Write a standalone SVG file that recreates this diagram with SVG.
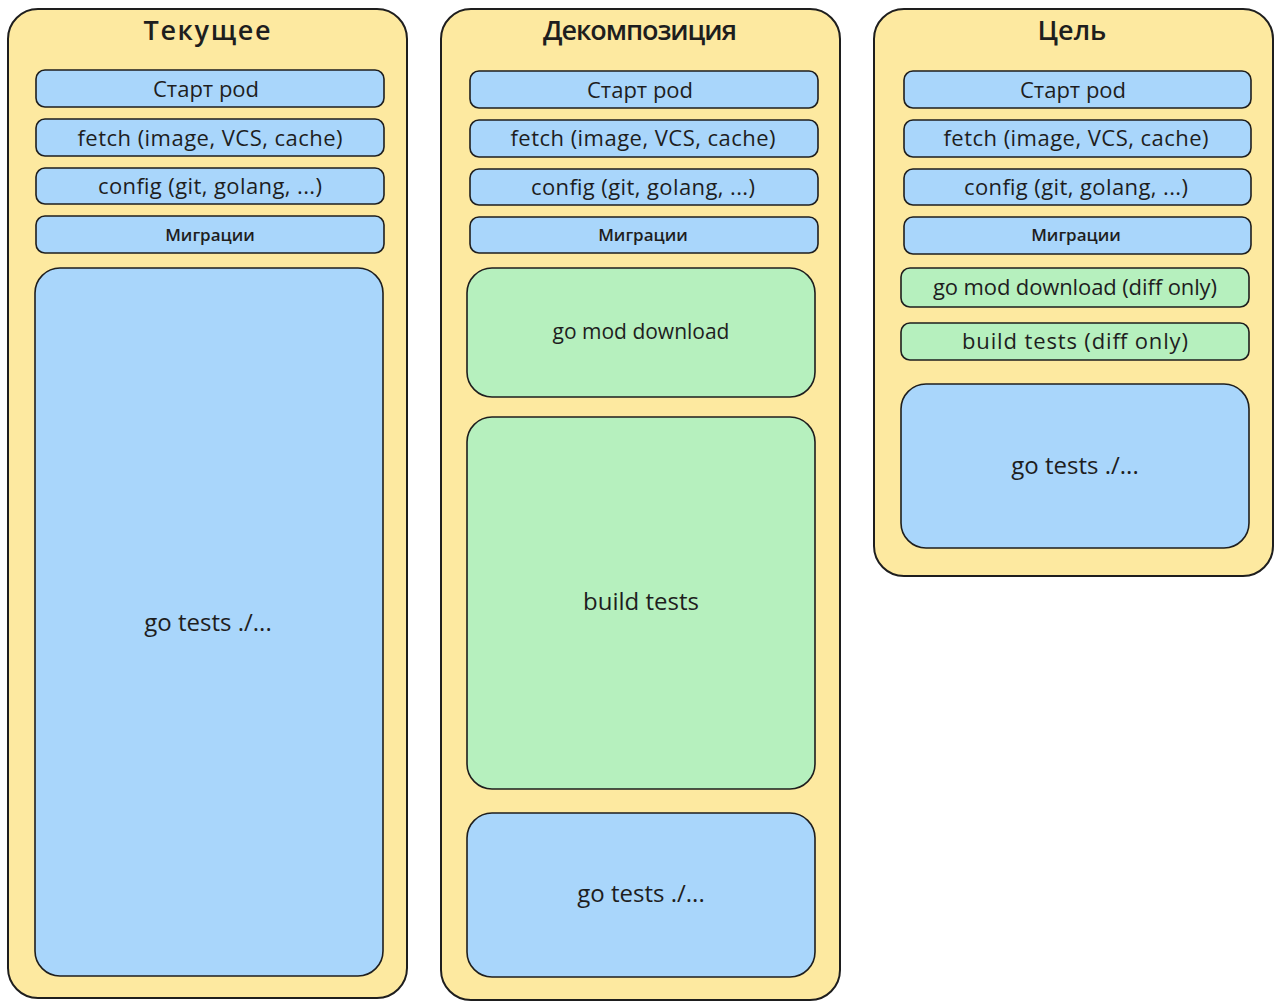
<svg xmlns="http://www.w3.org/2000/svg" width="1280" height="1002" viewBox="0 0 1280 1002">
<style>
.col{fill:#fde9a0;stroke:#1e1e1e;stroke-width:2}
.b{fill:#a9d6fb;stroke:#1e1e1e;stroke-width:1.6}
.g{fill:#b6f0be;stroke:#1e1e1e;stroke-width:1.6}
text{font-family:"Open Sans","Liberation Sans",sans-serif;fill:#1e1e1e;text-anchor:middle;dominant-baseline:central}
.t{font-size:27px;font-weight:600}
.s{font-size:22px}
.m{font-size:17px;font-weight:600}
.l{font-size:24px}
.d{font-size:21px}
</style>
<rect width="1280" height="1002" fill="#ffffff"/>
<g id="col-current">
<rect class="col" x="8" y="9" width="399" height="989" rx="30"/>
<text class="t" x="207" y="29" textLength="127">Текущее</text>
</g>
<g id="col-decomp">
<rect class="col" x="441" y="9" width="399" height="991" rx="30"/>
<text class="t" x="640" y="29" textLength="194">Декомпозиция</text>
</g>
<g id="col-goal">
<rect class="col" x="874" y="9" width="399" height="567" rx="30"/>
<text class="t" x="1072" y="29">Цель</text>
</g>
<g id="c1-start"><rect class="b" x="36" y="70" width="348" height="37" rx="9"/><text class="s" x="206" y="88">Старт pod</text></g>
<g id="c1-fetch"><rect class="b" x="36" y="119" width="348" height="37" rx="9"/><text class="s" x="210" y="137" textLength="265">fetch (image, VCS, cache)</text></g>
<g id="c1-config"><rect class="b" x="36" y="168" width="348" height="36" rx="9"/><text class="s" x="210" y="185" textLength="224">config (git, golang, ...)</text></g>
<g id="c1-migr"><rect class="b" x="36" y="216" width="348" height="37" rx="9"/><text class="m" x="210" y="234">Миграции</text></g>
<g id="c1-tests"><rect class="b" x="35" y="268" width="348" height="708" rx="25"/><text class="l" x="208" y="621">go tests ./...</text></g>
<g id="c2-start"><rect class="b" x="470" y="71" width="348" height="37" rx="9"/><text class="s" x="640" y="89">Старт pod</text></g>
<g id="c2-fetch"><rect class="b" x="470" y="120" width="348" height="37" rx="9"/><text class="s" x="643" y="137" textLength="265">fetch (image, VCS, cache)</text></g>
<g id="c2-config"><rect class="b" x="470" y="169" width="348" height="36" rx="9"/><text class="s" x="643" y="186" textLength="224">config (git, golang, ...)</text></g>
<g id="c2-migr"><rect class="b" x="470" y="217" width="348" height="36" rx="9"/><text class="m" x="643" y="234">Миграции</text></g>
<g id="c2-download"><rect class="g" x="467" y="268" width="348" height="129" rx="25"/><text class="d" x="641" y="331">go mod download</text></g>
<g id="c2-build"><rect class="g" x="467" y="417" width="348" height="372" rx="25"/><text class="l" x="641" y="600">build tests</text></g>
<g id="c2-tests"><rect class="b" x="467" y="813" width="348" height="164" rx="25"/><text class="l" x="641" y="892">go tests ./...</text></g>
<g id="c3-start"><rect class="b" x="904" y="71" width="347" height="37" rx="9"/><text class="s" x="1073" y="89">Старт pod</text></g>
<g id="c3-fetch"><rect class="b" x="904" y="120" width="347" height="37" rx="9"/><text class="s" x="1076" y="137" textLength="265">fetch (image, VCS, cache)</text></g>
<g id="c3-config"><rect class="b" x="904" y="169" width="347" height="36" rx="9"/><text class="s" x="1076" y="186" textLength="224">config (git, golang, ...)</text></g>
<g id="c3-migr"><rect class="b" x="904" y="217" width="347" height="37" rx="9"/><text class="m" x="1076" y="234">Миграции</text></g>
<g id="c3-download"><rect class="g" x="901" y="268" width="348" height="39" rx="9"/><text class="s" x="1075" y="286" textLength="284">go mod download (diff only)</text></g>
<g id="c3-build"><rect class="g" x="901" y="323" width="348" height="37" rx="9"/><text class="s" x="1075" y="340" textLength="226">build tests (diff only)</text></g>
<g id="c3-tests"><rect class="b" x="901" y="384" width="348" height="164" rx="25"/><text class="l" x="1075" y="464">go tests ./...</text></g>
<g id="connectors"></g>
</svg>
